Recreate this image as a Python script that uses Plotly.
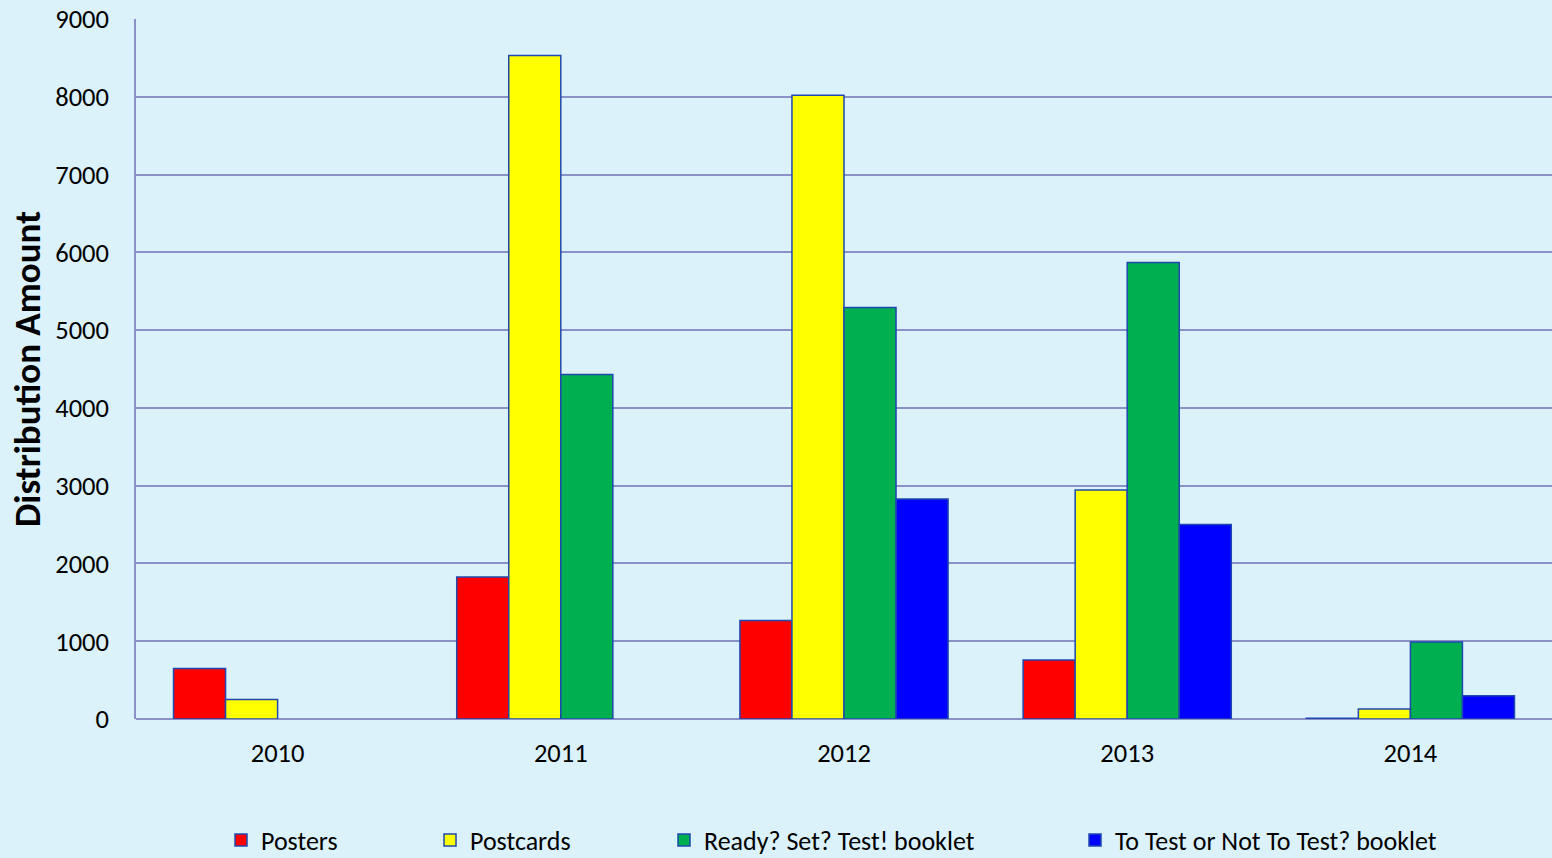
import plotly.graph_objects as go

years = ["2010", "2011", "2012", "2013", "2014"]
posters = [650, 1825, 1265, 760, 10]
postcards = [250, 8530, 8020, 2945, 130]
ready_set_test = [None, 4430, 5290, 5870, 990]
to_test_or_not = [None, None, 2830, 2500, 300]

series = [
    ("Posters", posters, "#ff0000"),
    ("Postcards", postcards, "#ffff00"),
    ("Ready? Set? Test! booklet", ready_set_test, "#00b050"),
    ("To Test or Not To Test? booklet", to_test_or_not, "#0000ff"),
]
legend_text_x = [261, 470, 704, 1115]

FONT = "Carlito, Lato, 'Open Sans', sans-serif"
fig = go.Figure()
for i, (name, vals, col) in enumerate(series):
    lg = "legend" if i == 0 else f"legend{i+1}"
    fig.add_trace(go.Bar(
        x=years, y=vals, name=name, legend=lg,
        marker=dict(color=col, line=dict(color="#1f48b0", width=1.5)),
    ))

layout_legends = {}
for i, lx in enumerate(legend_text_x):
    key = "legend" if i == 0 else f"legend{i+1}"
    layout_legends[key] = dict(
        x=(lx - 40) / 1552, xref="container", y=(858 - 840) / 858, yref="container",
        xanchor="left", yanchor="middle", orientation="h",
        bgcolor="rgba(0,0,0,0)", font=dict(family=FONT, size=26, color="#000"),
        itemwidth=30,
    )

fig.update_layout(
    width=1552, height=858,
    margin=dict(l=136, r=0, t=19, b=139),
    paper_bgcolor="#dbf2fb", plot_bgcolor="rgba(0,0,0,0)",
    barmode="group", bargap=0.265, bargroupgap=0,
    font=dict(family=FONT, size=26, color="#000"),
    showlegend=True,
    **layout_legends,
    xaxis=dict(range=[-0.5, 4.5], showgrid=False, showline=False, ticks="",
               tickfont=dict(size=26.5), ticklabelstandoff=15),
    yaxis=dict(range=[0, 9000], dtick=1000, showgrid=True, gridcolor="#8a90c8", gridwidth=1.5,
               showline=True, linecolor="#8a90c8", linewidth=1.5, zeroline=True,
               zerolinecolor="#8a90c8", zerolinewidth=1.5, ticks="",
               tickfont=dict(size=26.5), ticklabelstandoff=20,
               title=dict(text="<b>Distribution Amount</b>", font=dict(size=37), standoff=3)),
)

fig.write_html("out.html")
